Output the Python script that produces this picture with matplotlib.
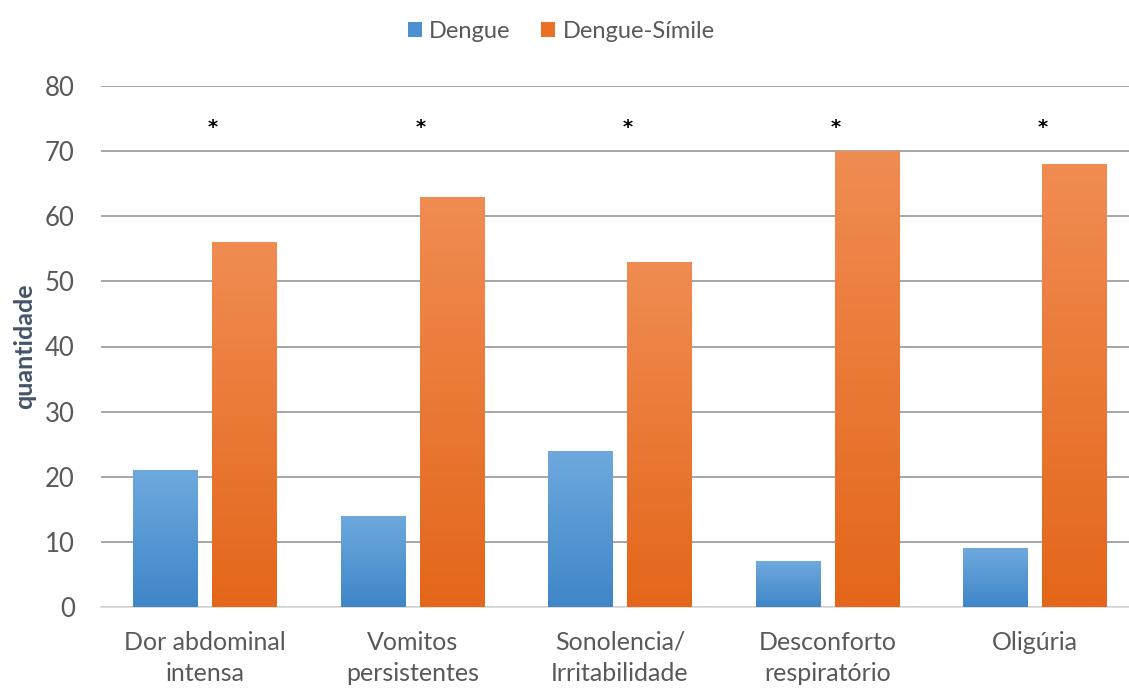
import matplotlib.pyplot as plt
import numpy as np
from matplotlib.colors import LinearSegmentedColormap
from matplotlib.patches import Patch

categorias = ["Dor abdominal\nintensa", "Vomitos\npersistentes", "Sonolencia/\nIrritabilidade",
              "Desconforto\nrespiratório", "Oligúria"]
dengue = [21, 14, 24, 7, 9]
dengue_simile = [56, 63, 53, 70, 68]
marca_y = 73.6  # nivel dos asteriscos de significancia

plt.rcParams['font.family'] = ['Lato', 'DejaVu Sans']
cor_texto = "#595959"

fig = plt.figure(figsize=(11.29, 6.93), dpi=100)
ax = fig.add_axes([0.0895, 0.124, 0.919, 0.752])

x = np.arange(len(categorias))
largura = 0.31
desloc = 0.19

cmap_azul = LinearSegmentedColormap.from_list("azul", ["#3f86c8", "#6ea9dd"])
cmap_laranja = LinearSegmentedColormap.from_list("laranja", ["#e4661a", "#f08c52"])
grad = np.linspace(0, 1, 256).reshape(-1, 1)


def barras_gradiente(xs, valores, cmap):
    bars = ax.bar(xs, valores, largura, color="none", zorder=3)
    for b in bars:
        x0, y0 = b.get_x(), b.get_y()
        w, h = b.get_width(), b.get_height()
        im = ax.imshow(grad, cmap=cmap, origin="lower", aspect="auto",
                       extent=[x0, x0 + w, y0, y0 + h], zorder=3)
        im.set_clip_path(b)
    return bars


barras_gradiente(x - desloc, dengue, cmap_azul)
barras_gradiente(x + desloc, dengue_simile, cmap_laranja)

for xi in x:
    ax.text(xi + 0.04, marca_y, "*", ha="center", va="center", fontsize=14,
            fontweight="bold", color="black", family="DejaVu Sans")

ax.set_xlim(-0.5, 4.5)
ax.set_ylim(0, 80)
ax.set_yticks(range(0, 81, 10))
ax.set_xticks(x)
ax.set_xticklabels(categorias, fontsize=18, color=cor_texto, linespacing=1.45)
ax.tick_params(axis="y", labelsize=18.5, colors=cor_texto, length=0, pad=19)
ax.tick_params(axis="x", length=0, pad=17)

ax.yaxis.grid(True, color="#a6a6a6", linewidth=1.4, zorder=0)
ax.set_axisbelow(True)
for s in ["top", "right", "left"]:
    ax.spines[s].set_visible(False)
ax.spines["bottom"].set_color("#d9d9d9")
ax.spines["bottom"].set_linewidth(1.2)

ax.set_ylabel("quantidade", fontsize=18, fontweight="bold", color="#44546a", labelpad=6)

handles = [Patch(facecolor="#4a90d2", label="Dengue"),
           Patch(facecolor="#ea7126", label="Dengue-Símile")]
fig.legend(handles=handles, loc="center", bbox_to_anchor=(0.497, 0.955), ncol=2,
           frameon=False, fontsize=17, labelcolor=cor_texto, handlelength=0.6,
           handleheight=0.6, handletextpad=0.3, columnspacing=1.3)

fig.savefig("out.png", dpi=100)
